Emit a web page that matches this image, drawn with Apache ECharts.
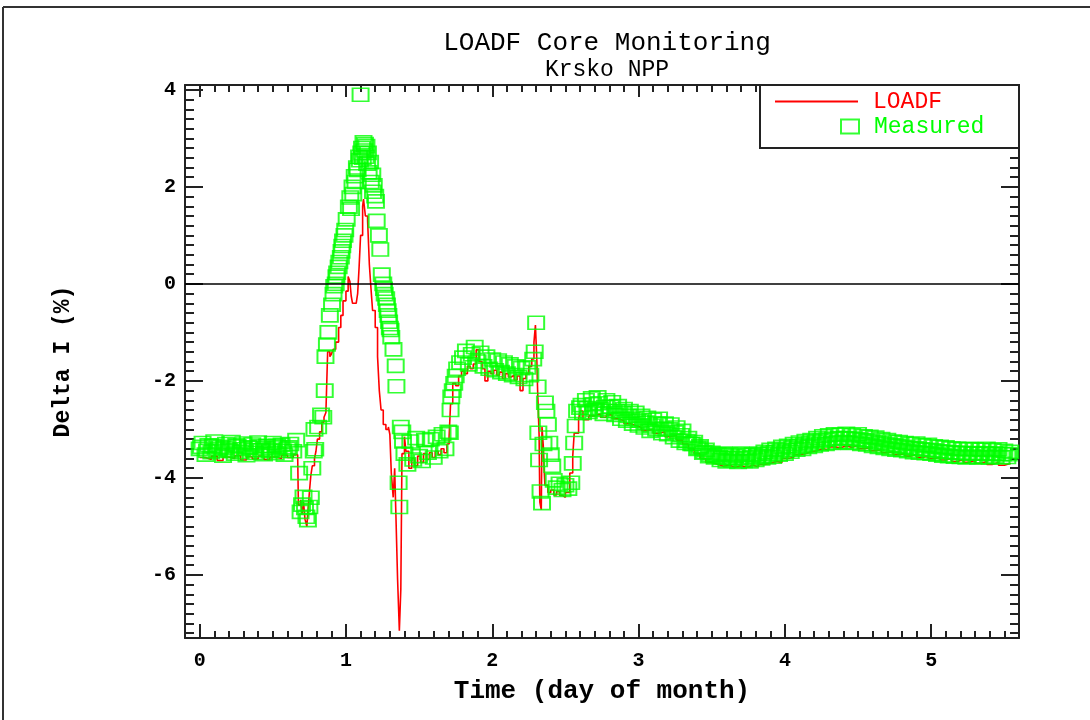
<!DOCTYPE html>
<html>
<head>
<meta charset="utf-8">
<title>LOADF Core Monitoring</title>
<script src="https://cdn.jsdelivr.net/npm/echarts@6/dist/echarts.min.js"></script>
<style>
  html, body { margin: 0; padding: 0; background: #fff; }
  #chart { width: 1090px; height: 720px; }
</style>
</head>
<body>
<div id="chart"></div>
<script>
// tick labels
var xMajorTicks = [0, 1, 2, 3, 4, 5];
var yMajorTicks = [-6, -4, -2, 0, 2, 4];

// LOADF prediction [day, delta I %]
var loadf = [
  [0.00,-3.58],[0.04,-3.62],[0.08,-3.55],[0.12,-3.64],[0.16,-3.57],[0.20,-3.60],[0.24,-3.54],[0.28,-3.63],[0.32,-3.56],[0.36,-3.61],
  [0.40,-3.55],[0.44,-3.62],[0.48,-3.57],[0.52,-3.60],[0.56,-3.53],[0.60,-3.58],[0.64,-3.52],[0.67,-3.50],[0.675,-4.56],[0.69,-4.45],
  [0.70,-4.75],[0.71,-4.50],[0.72,-4.85],[0.733,-5.00],[0.74,-4.70],[0.75,-4.30],[0.76,-3.95],[0.77,-3.75],[0.785,-3.60],[0.795,-3.45],
  [0.805,-3.20],[0.82,-3.05],[0.835,-2.85],[0.85,-2.75],[0.863,-2.65],[0.875,-1.40],[0.89,-1.50],[0.90,-1.45],[0.913,-1.35],[0.93,-1.20],
  [0.95,-0.90],[0.965,-0.65],[0.98,-0.35],[1.00,-0.15],[1.015,0.15],[1.027,0.05],[1.036,-0.25],[1.045,-0.40],[1.07,-0.40],[1.08,-0.20],
  [1.09,0.35],[1.10,1.00],[1.114,1.60],[1.12,1.75],[1.133,1.40],[1.148,1.30],[1.16,0.40],[1.17,-0.05],[1.182,-0.55],[1.20,-0.90],
  [1.216,-1.50],[1.228,-2.20],[1.24,-2.60],[1.255,-2.90],[1.273,-3.00],[1.29,-2.95],[1.30,-3.10],[1.31,-3.90],[1.323,-4.40],[1.333,-3.80],
  [1.34,-4.60],[1.353,-6.10],[1.365,-7.15],[1.375,-6.30],[1.383,-3.50],[1.40,-3.15],[1.41,-3.45],[1.43,-3.80],[1.45,-3.60],[1.47,-3.75],
  [1.49,-3.55],[1.51,-3.68],[1.53,-3.50],[1.55,-3.62],[1.57,-3.48],[1.59,-3.58],[1.61,-3.45],[1.63,-3.52],[1.65,-3.40],[1.67,-3.48],
  [1.69,-3.30],[1.705,-3.15],[1.715,-2.47],[1.73,-2.05],[1.75,-2.10],[1.77,-1.90],[1.79,-1.80],[1.81,-1.85],[1.83,-1.70],[1.85,-1.75],
  [1.87,-1.65],[1.89,-1.36],[1.91,-1.60],[1.93,-1.75],[1.95,-2.00],[1.97,-1.80],[1.99,-1.85],[2.01,-1.78],[2.03,-1.88],[2.05,-1.82],
  [2.07,-1.95],[2.09,-1.85],[2.11,-1.92],[2.13,-1.88],[2.15,-1.98],[2.17,-1.90],[2.19,-2.20],[2.21,-1.95],[2.23,-1.85],[2.25,-1.70],
  [2.27,-1.55],[2.285,-1.20],[2.295,-0.85],[2.305,-1.60],[2.31,-2.20],[2.32,-3.10],[2.325,-4.50],[2.335,-4.66],[2.34,-2.95],[2.35,-3.40],
  [2.355,-3.85],[2.36,-4.15],[2.38,-4.30],[2.40,-4.25],[2.42,-4.35],[2.44,-4.28],[2.46,-4.36],[2.48,-4.40],[2.50,-4.30],[2.53,-3.90],
  [2.55,-3.55],[2.56,-3.08],[2.59,-2.80],[2.60,-2.62],[2.62,-2.80],[2.66,-2.72],[2.70,-2.68],[2.74,-2.75],[2.78,-2.70],[2.82,-2.78],
  [2.86,-2.82],[2.90,-2.88],[2.94,-2.92],[2.98,-2.96],[3.02,-3.02],[3.06,-3.00],[3.10,-3.08],[3.14,-3.05],[3.18,-3.15],[3.22,-3.12],
  [3.26,-3.22],[3.30,-3.30],[3.34,-3.40],[3.38,-3.50],[3.42,-3.60],[3.46,-3.68],[3.50,-3.72],[3.54,-3.76],[3.58,-3.74],[3.62,-3.78],
  [3.66,-3.75],[3.70,-3.78],[3.74,-3.74],[3.78,-3.77],[3.82,-3.72],[3.86,-3.70],[3.90,-3.66],[3.94,-3.68],[3.98,-3.60],[4.02,-3.58],
  [4.06,-3.52],[4.10,-3.50],[4.14,-3.46],[4.18,-3.44],[4.22,-3.40],[4.26,-3.42],[4.30,-3.36],[4.34,-3.38],[4.38,-3.34],[4.42,-3.37],
  [4.46,-3.33],[4.50,-3.40],[4.54,-3.38],[4.58,-3.44],[4.62,-3.42],[4.66,-3.48],[4.70,-3.46],[4.74,-3.52],[4.78,-3.50],[4.82,-3.55],
  [4.86,-3.52],[4.90,-3.58],[4.94,-3.55],[4.98,-3.60],[5.02,-3.58],[5.06,-3.63],[5.10,-3.60],[5.14,-3.66],[5.18,-3.62],[5.22,-3.68],
  [5.26,-3.64],[5.30,-3.70],[5.34,-3.66],[5.38,-3.72],[5.42,-3.68],[5.46,-3.74],[5.50,-3.70],[5.54,-3.72]
];

// measured values [day, delta I %]
var measured = [
  [0.00,-3.40],[0.02,-3.28],[0.04,-3.52],[0.06,-3.33],[0.08,-3.47],[0.10,-3.25],[0.12,-3.44],[0.14,-3.36],[0.16,-3.54],[0.18,-3.30],
  [0.20,-3.42],[0.22,-3.26],[0.24,-3.50],[0.26,-3.35],[0.28,-3.46],[0.30,-3.29],[0.32,-3.53],[0.34,-3.38],[0.36,-3.31],[0.38,-3.48],
  [0.40,-3.27],[0.42,-3.43],[0.44,-3.51],[0.46,-3.34],[0.48,-3.45],[0.50,-3.28],[0.52,-3.49],[0.54,-3.37],[0.56,-3.32],[0.58,-3.52],
  [0.60,-3.40],[0.62,-3.30],[0.64,-3.45],[0.66,-3.22],[0.68,-3.90],[0.69,-4.70],[0.70,-4.55],[0.71,-4.39],[0.72,-4.62],[0.73,-4.80],
  [0.74,-4.87],[0.75,-4.60],[0.76,-4.41],[0.77,-3.80],[0.78,-3.45],[0.785,-3.00],[0.79,-3.41],[0.81,-2.95],[0.83,-2.70],[0.845,-2.75],
  [0.855,-2.20],[0.86,-1.50],[0.87,-1.25],[0.88,-1.00],[0.89,-0.65],[0.905,-0.43],[0.915,-0.21],[0.92,-0.05],[0.93,0.00],[0.935,0.15],
  [0.94,0.23],[0.95,0.35],[0.955,0.45],[0.965,0.55],[0.97,0.67],[0.975,0.78],[0.98,0.89],[0.99,1.00],[0.995,1.11],[1.005,1.33],
  [1.02,1.59],[1.03,1.78],[1.035,1.55],[1.045,2.00],[1.05,1.85],[1.06,2.22],[1.065,2.10],[1.075,2.40],[1.08,2.35],[1.09,2.62],
  [1.095,2.55],[1.10,3.90],[1.105,2.70],[1.11,2.80],[1.115,2.60],[1.12,2.92],[1.125,2.75],[1.13,2.88],[1.135,2.62],[1.14,2.84],
  [1.145,2.48],[1.15,2.70],[1.155,2.30],[1.165,2.51],[1.17,2.10],[1.18,2.25],[1.185,1.90],[1.19,2.03],[1.20,1.81],[1.205,1.70],
  [1.21,1.30],[1.225,1.00],[1.235,0.71],[1.245,0.19],[1.255,0.00],[1.26,-0.10],[1.265,-0.21],[1.275,-0.30],[1.28,-0.43],[1.285,-0.55],
  [1.29,-0.65],[1.295,-0.78],[1.30,-0.91],[1.305,-0.95],[1.31,-1.10],[1.325,-1.35],[1.34,-1.69],[1.345,-2.11],[1.36,-4.10],[1.365,-4.60],
  [1.375,-2.95],[1.385,-3.05],[1.39,-3.25],[1.40,-3.50],[1.42,-3.72],[1.44,-3.25],[1.46,-3.62],[1.48,-3.18],[1.50,-3.55],[1.52,-3.65],
  [1.54,-3.22],[1.56,-3.48],[1.58,-3.20],[1.60,-3.58],[1.62,-3.15],[1.64,-3.45],[1.66,-3.10],[1.68,-3.40],[1.70,-3.05],[1.71,-3.07],
  [1.715,-2.60],[1.72,-2.33],[1.73,-2.20],[1.74,-2.05],[1.75,-1.90],[1.76,-1.75],[1.78,-1.62],[1.80,-1.52],[1.82,-1.38],[1.84,-1.66],
  [1.86,-1.45],[1.88,-1.30],[1.90,-1.60],[1.92,-1.42],[1.94,-1.70],[1.96,-1.50],[1.98,-1.75],[2.00,-1.56],[2.02,-1.78],[2.04,-1.58],
  [2.06,-1.82],[2.08,-1.62],[2.10,-1.85],[2.12,-1.66],[2.14,-1.88],[2.16,-1.70],[2.18,-1.92],[2.20,-1.74],[2.22,-1.96],[2.24,-1.72],
  [2.26,-1.88],[2.28,-1.55],[2.29,-1.40],[2.30,-0.80],[2.31,-2.12],[2.315,-3.07],[2.32,-3.63],[2.33,-4.28],[2.34,-4.52],[2.35,-3.30],
  [2.36,-2.45],[2.37,-2.62],[2.38,-2.90],[2.39,-3.28],[2.40,-3.52],[2.41,-3.75],[2.42,-4.05],[2.44,-4.20],[2.46,-4.12],[2.48,-4.25],
  [2.50,-4.15],[2.52,-4.22],[2.54,-4.10],[2.55,-3.70],[2.56,-3.28],[2.57,-2.93],[2.58,-2.62],[2.60,-2.55],[2.62,-2.66],[2.64,-2.40],
  [2.66,-2.64],[2.68,-2.36],[2.70,-2.60],[2.72,-2.34],[2.74,-2.58],[2.76,-2.68],[2.78,-2.40],[2.80,-2.62],[2.82,-2.44],[2.84,-2.70],
  [2.86,-2.52],[2.88,-2.78],[2.90,-2.58],[2.92,-2.82],[2.94,-2.62],[2.96,-2.88],[2.98,-2.66],[3.00,-2.92],[3.02,-2.72],[3.04,-2.96],
  [3.06,-2.76],[3.08,-3.03],[3.10,-2.80],[3.12,-3.00],[3.14,-2.78],[3.16,-3.08],[3.18,-2.88],[3.20,-3.10],[3.22,-2.90],[3.24,-3.16],
  [3.26,-2.96],[3.28,-3.23],[3.30,-3.03],[3.32,-3.28],[3.34,-3.18],[3.36,-3.30],[3.38,-3.26],[3.40,-3.40],[3.42,-3.35],[3.44,-3.48],
  [3.46,-3.42],[3.48,-3.55],[3.50,-3.48],[3.52,-3.58],[3.54,-3.52],[3.56,-3.63],[3.58,-3.50],[3.60,-3.66],[3.62,-3.52],[3.64,-3.64],
  [3.66,-3.54],[3.68,-3.67],[3.70,-3.50],[3.72,-3.65],[3.74,-3.53],[3.76,-3.66],[3.78,-3.52],[3.80,-3.63],[3.82,-3.50],[3.84,-3.60],
  [3.86,-3.46],[3.88,-3.58],[3.90,-3.42],[3.92,-3.56],[3.94,-3.40],[3.96,-3.52],[3.98,-3.36],[4.00,-3.50],[4.02,-3.34],[4.04,-3.46],
  [4.06,-3.30],[4.08,-3.42],[4.10,-3.27],[4.12,-3.40],[4.14,-3.24],[4.16,-3.36],[4.18,-3.22],[4.20,-3.34],[4.22,-3.18],[4.24,-3.31],
  [4.26,-3.14],[4.28,-3.30],[4.30,-3.12],[4.32,-3.28],[4.34,-3.10],[4.36,-3.27],[4.38,-3.11],[4.40,-3.26],[4.42,-3.09],[4.44,-3.28],
  [4.46,-3.12],[4.48,-3.27],[4.50,-3.10],[4.52,-3.30],[4.54,-3.14],[4.56,-3.31],[4.58,-3.15],[4.60,-3.34],[4.62,-3.17],[4.64,-3.36],
  [4.66,-3.20],[4.68,-3.38],[4.70,-3.22],[4.72,-3.40],[4.74,-3.25],[4.76,-3.42],[4.78,-3.26],[4.80,-3.43],[4.82,-3.28],[4.84,-3.45],
  [4.86,-3.30],[4.88,-3.47],[4.90,-3.29],[4.92,-3.48],[4.94,-3.33],[4.96,-3.49],[4.98,-3.32],[5.00,-3.50],[5.02,-3.35],[5.04,-3.52],
  [5.06,-3.36],[5.08,-3.54],[5.10,-3.37],[5.12,-3.55],[5.14,-3.39],[5.16,-3.56],[5.18,-3.40],[5.20,-3.57],[5.22,-3.41],[5.24,-3.58],
  [5.26,-3.40],[5.28,-3.56],[5.30,-3.41],[5.32,-3.58],[5.34,-3.42],[5.36,-3.57],[5.38,-3.40],[5.40,-3.58],[5.42,-3.43],[5.44,-3.56],
  [5.46,-3.41],[5.48,-3.58],[5.50,-3.44],[5.52,-3.57],[5.54,-3.46]
];

// further measured samples in the slow stretches (between the ones above)
var measuredB = [
  [0.01,-3.36],[0.05,-3.44],[0.09,-3.34],[0.13,-3.40],[0.17,-3.38],[0.21,-3.45],[0.25,-3.33],[0.29,-3.41],[0.33,-3.37],[0.37,-3.43],
  [0.41,-3.35],[0.45,-3.39],[0.49,-3.42],[0.53,-3.34],[0.57,-3.44],[0.61,-3.37],
  [2.61,-2.50],[2.65,-2.56],[2.69,-2.48],[2.73,-2.46],[2.77,-2.54],[2.81,-2.53],[2.85,-2.62],[2.89,-2.66],[2.93,-2.72],[2.97,-2.78],
  [3.01,-2.82],[3.05,-2.86],[3.09,-2.92],[3.13,-2.88],[3.17,-2.98],[3.21,-3.00],[3.25,-3.06],[3.29,-3.12],[3.33,-3.24],[3.37,-3.30],
  [3.41,-3.38],[3.45,-3.46],[3.49,-3.52],[3.53,-3.55],[3.57,-3.58],[3.61,-3.59],[3.65,-3.60],[3.69,-3.58],[3.73,-3.60],[3.77,-3.58],
  [3.81,-3.56],[3.85,-3.54],[3.89,-3.50],[3.93,-3.47],[3.97,-3.44],[4.01,-3.42],[4.05,-3.38],[4.09,-3.35],[4.13,-3.32],[4.17,-3.29],
  [4.21,-3.26],[4.25,-3.23],[4.29,-3.21],[4.33,-3.19],[4.37,-3.18],[4.41,-3.18],[4.45,-3.19],[4.49,-3.20],[4.53,-3.22],[4.57,-3.23],
  [4.61,-3.26],[4.65,-3.28],[4.69,-3.30],[4.73,-3.33],[4.77,-3.34],[4.81,-3.36],[4.85,-3.38],[4.89,-3.39],[4.93,-3.41],[4.97,-3.42],
  [5.01,-3.43],[5.05,-3.45],[5.09,-3.46],[5.13,-3.47],[5.17,-3.48],[5.21,-3.49],[5.25,-3.49],[5.29,-3.50],[5.33,-3.50],[5.37,-3.49],
  [5.41,-3.51],[5.45,-3.50],[5.49,-3.51],[5.53,-3.51]
];

var FONT = "'Liberation Mono', 'DejaVu Sans Mono', monospace";
var INK = '#222';

// minor tick positions (every 0.1 day / 0.2 %)
function ticks(from, to, step) {
  var out = [];
  for (var i = 0; from + i * step <= to + 1e-9; i++) {
    out.push(Math.round((from + i * step) * 100) / 100);
  }
  return out;
}
var xMinorTicks = ticks(0, 5.5, 0.1);
var yMinorTicks = ticks(-7.2, 4.0, 0.2);

var X_MIN = -0.1, X_MAX = 5.6, Y_MIN = -7.3, Y_MAX = 4.1;

function xAxis(grid, pos, tickVals, len, line) {
  return {
    type: 'value', gridIndex: grid, position: pos, min: X_MIN, max: X_MAX,
    axisLine: { show: line, onZero: false, lineStyle: { color: INK, width: 2 } },
    axisTick: { inside: true, length: len, customValues: tickVals, lineStyle: { color: INK, width: 2 } },
    axisLabel: { show: false },
    splitLine: { show: false }
  };
}
function yAxis(grid, pos, tickVals, len, line) {
  return {
    type: 'value', gridIndex: grid, position: pos, min: Y_MIN, max: Y_MAX,
    axisLine: { show: line, onZero: false, lineStyle: { color: INK, width: 2 } },
    axisTick: { inside: true, length: len, customValues: tickVals, lineStyle: { color: INK, width: 2 } },
    axisLabel: { show: false },
    splitLine: { show: false }
  };
}

var xBottom = xAxis(0, 'bottom', xMajorTicks, 14, true);
xBottom.axisLabel = { show: true, customValues: xMajorTicks, margin: 13, color: '#000', fontFamily: FONT, fontSize: 20, fontWeight: 'bold' };
xBottom.name = 'Time (day of month)';
xBottom.nameLocation = 'middle';
xBottom.nameGap = 40;
xBottom.nameTextStyle = { color: '#000', fontFamily: FONT, fontSize: 26, fontWeight: 'bold' };

var yLeft = yAxis(0, 'left', yMajorTicks, 18, true);
yLeft.axisLabel = { show: true, customValues: yMajorTicks, margin: 9, color: '#000', fontFamily: FONT, fontSize: 20, fontWeight: 'bold' };
yLeft.name = 'Delta I (%)';
yLeft.nameLocation = 'middle';
yLeft.nameGap = 110;
yLeft.nameTextStyle = { color: '#000', fontFamily: FONT, fontSize: 23, fontWeight: 'bold' };

var gridBox = { left: 185, right: 71, top: 85, bottom: 82, containLabel: false };

var option = {
  animation: false,
  backgroundColor: '#fff',
  title: {
    text: 'LOADF Core Monitoring',
    subtext: 'Krsko NPP',
    left: 602, top: 25, textAlign: 'center', itemGap: 2,
    textStyle: { color: '#000', fontFamily: FONT, fontSize: 26, fontWeight: 'normal' },
    subtextStyle: { color: '#000', fontFamily: FONT, fontSize: 23, fontWeight: 'normal' }
  },
  legend: [
    {
      data: [{ name: 'LOADF', icon: 'rect', itemStyle: { color: '#ff0000', borderWidth: 0 } }],
      left: 775, top: 90, padding: 0, selectedMode: false,
      itemWidth: 83, itemHeight: 2,
      textStyle: { color: '#ff0000', fontFamily: FONT, fontSize: 23, padding: [0, 0, 0, 10] }
    },
    {
      data: ['Measured'], left: 840, top: 115, padding: 0, selectedMode: false,
      itemWidth: 18, itemHeight: 14, icon: 'rect',
      textStyle: { color: '#00ff00', fontFamily: FONT, fontSize: 23, padding: [0, 0, 0, 10] }
    }
  ],
  grid: [gridBox, gridBox],
  xAxis: [
    xBottom,
    xAxis(0, 'top', xMajorTicks, 12, true),
    xAxis(1, 'bottom', xMinorTicks, 7, false),
    xAxis(1, 'top', xMinorTicks, 7, false)
  ],
  yAxis: [
    yLeft,
    yAxis(0, 'right', yMajorTicks, 18, true),
    yAxis(1, 'left', yMinorTicks, 9, false),
    yAxis(1, 'right', yMinorTicks, 9, false)
  ],
  graphic: [
    { type: 'line', shape: { x1: 3, y1: 7, x2: 1090, y2: 7 }, style: { stroke: '#333', lineWidth: 2 } },
    { type: 'line', shape: { x1: 3, y1: 7, x2: 3, y2: 720 }, style: { stroke: '#333', lineWidth: 2 } },
    { type: 'rect', z: 3, shape: { x: 760, y: 85, width: 259, height: 63 }, style: { fill: '#fff', stroke: INK, lineWidth: 2 } }
  ],
  series: [
    {
      name: 'LOADF', type: 'line', xAxisIndex: 0, yAxisIndex: 0,
      data: loadf, step: 'end', symbol: 'none', z: 2,
      lineStyle: { color: '#ff0000', width: 1.6 },
      itemStyle: { color: '#ff0000' },
      markLine: {
        silent: true, symbol: ['none', 'none'], label: { show: false },
        lineStyle: { color: '#000', width: 1.5, type: 'solid' },
        data: [{ yAxis: 0 }]
      }
    },
    {
      name: 'Measured', type: 'scatter', xAxisIndex: 0, yAxisIndex: 0,
      data: measured.concat(measuredB), symbol: 'rect', symbolSize: [16, 13], z: 3,
      itemStyle: { color: 'rgba(0,0,0,0)', borderColor: '#00ff00', borderWidth: 1.8 }
    }
  ]
};

var chart = echarts.init(document.getElementById('chart'), null, { renderer: 'canvas' });
chart.setOption(option);
</script>
</body>
</html>
